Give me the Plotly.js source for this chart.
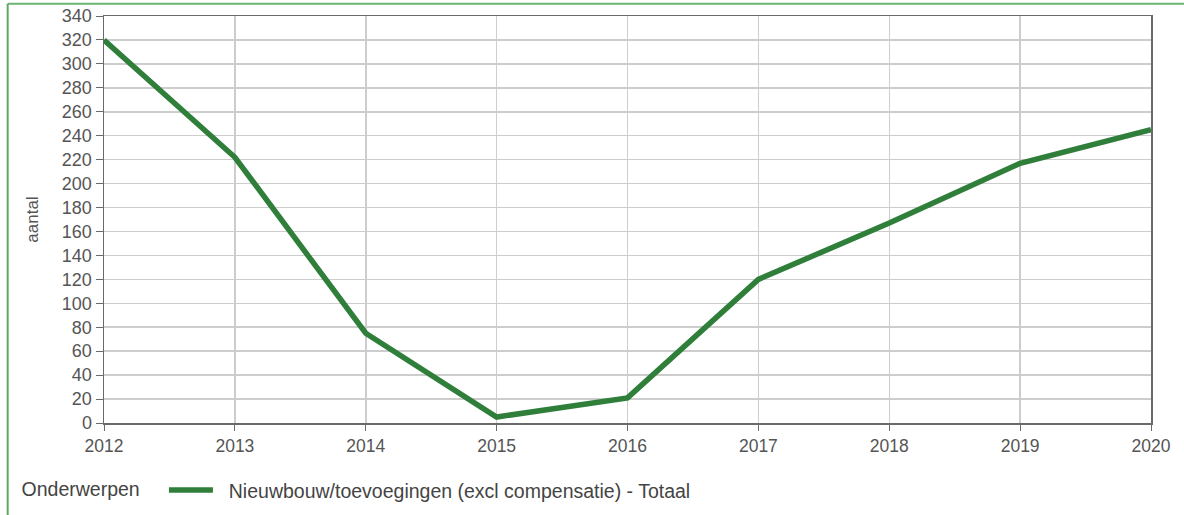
<!DOCTYPE html>
<html>
<head>
<meta charset="utf-8">
<script src="https://cdn.plot.ly/plotly-3.0.1.min.js"></script>
<style>
html,body{margin:0;padding:0;background:#fff;}
#chart{width:1184px;height:515px;}
</style>
</head>
<body>
<div id="chart"></div>
<script>
const years = [2012, 2013, 2014, 2015, 2016, 2017, 2018, 2019, 2020];
const totaal = [320, 222, 75, 5, 21, 120, 167, 217, 245];
const seriesName = "Nieuwbouw/toevoegingen (excl compensatie) - Totaal";
const legendTitle = "Onderwerpen";
const yTitle = "aantal";

const trace = {
  x: years, y: totaal, type: "scatter", mode: "lines",
  name: "\u00a0\u00a0" + seriesName,
  line: {color: "#2f7f3b", width: 5.5}
};

const layout = {
  width: 1184, height: 515,
  margin: {l: 104, r: 33, t: 16, b: 92, autoexpand: false},
  paper_bgcolor: "#fff", plot_bgcolor: "#fff",
  font: {family: "Liberation Sans, Arial, sans-serif", color: "#555", size: 18},
  xaxis: {
    range: [2012, 2020], tickmode: "array", tickvals: years,
    ticktext: years.map(String),
    showgrid: true, gridcolor: "#cdcdcd", gridwidth: 1.5,
    showline: true, linecolor: "#6a6a6a", linewidth: 1.5, mirror: true,
    ticks: "outside", ticklen: 6, tickcolor: "#6a6a6a",
    tickfont: {size: 17.5, color: "#555"}, zeroline: false
  },
  yaxis: {
    range: [0, 340], dtick: 20, tick0: 0,
    showgrid: true, gridcolor: "#cdcdcd", gridwidth: 1.5,
    showline: true, linecolor: "#6a6a6a", linewidth: 1.5, mirror: true,
    ticks: "outside", ticklen: 7, tickcolor: "#6a6a6a",
    tickfont: {size: 18, color: "#555"}, zeroline: false,
    title: {text: yTitle, font: {size: 17, color: "#555"}, standoff: 19}
  },
  showlegend: true,
  legend: {
    orientation: "h", xref: "container", yref: "container",
    x: 0.0165, xanchor: "left", y: 0.048, yanchor: "middle",
    title: {text: legendTitle + "\u00a0\u00a0\u00a0", font: {size: 19.5, color: "#444"}, side: "left"},
    font: {size: 19.5, color: "#444"}, itemwidth: 44
  },
  shapes: [
    {type: "line", xref: "paper", yref: "paper", x0: -0.092, x1: 1.1, y0: 1.03, y1: 1.03,
     line: {color: "#6cb472", width: 2}},
    {type: "line", xref: "paper", yref: "paper", x0: -0.092, x1: -0.092, y0: 1.03, y1: -0.3,
     line: {color: "#5aaa60", width: 2}}
  ]
};

Plotly.newPlot("chart", [trace], layout, {displayModeBar: false, staticPlot: true});
</script>
</body>
</html>
